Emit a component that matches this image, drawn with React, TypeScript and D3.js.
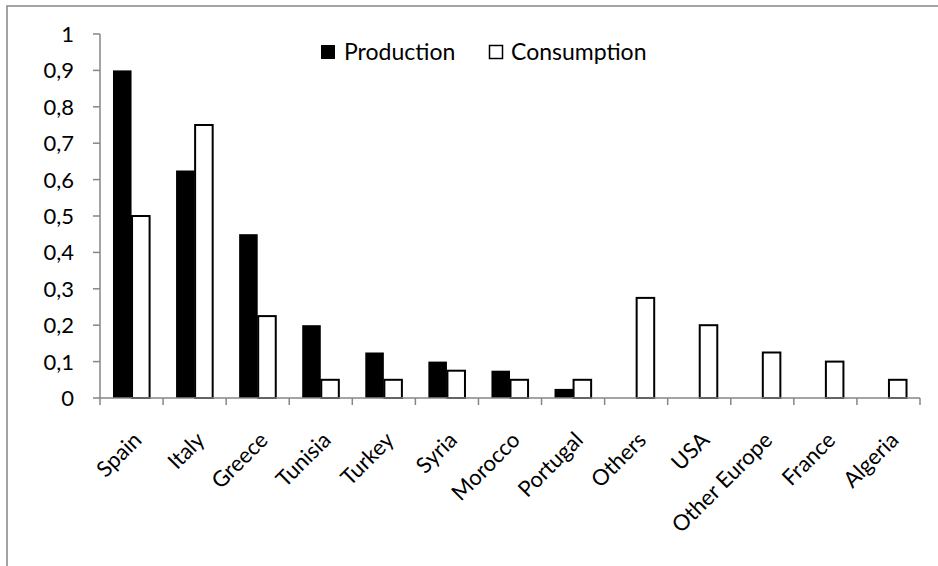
import React from "react";
import * as d3 from "d3";

const categories = ["Spain", "Italy", "Greece", "Tunisia", "Turkey", "Syria", "Morocco", "Portugal", "Others", "USA", "Other Europe", "France", "Algeria"];
const production = [0.9, 0.625, 0.45, 0.2, 0.125, 0.1, 0.075, 0.025, 0, 0, 0, 0, 0];
const consumption = [0.5, 0.75, 0.225, 0.05, 0.05, 0.075, 0.05, 0.05, 0.275, 0.2, 0.125, 0.1, 0.05];
const seriesNames = ["Production", "Consumption"];
const yTicks = [0, 0.1, 0.2, 0.3, 0.4, 0.5, 0.6, 0.7, 0.8, 0.9, 1];

const W = 938;
const H = 566;
const FONT = "Lato, 'Open Sans', sans-serif";
const AXIS = "#868686";

export default function App() {
  const x0 = d3.scaleBand<string>().domain(categories).range([100, 920]).padding(0);
  const x1 = d3.scaleBand<string>().domain(seriesNames).range([0, x0.bandwidth()]).paddingInner(0).paddingOuter(0.7);
  const y = d3.scaleLinear().domain([0, 1]).range([398, 34]);
  const fmt = (v: number) => (v === 0 ? "0" : v === 1 ? "1" : d3.format(".1f")(v).replace(".", ","));
  const values = [production, consumption];
  const boundaries = d3.range(categories.length + 1).map((i) => 100 + i * x0.step());

  return (
    <svg width={W} height={H} style={{ position: "absolute", left: 0, top: 0, background: "#fff" }} fontFamily={FONT}>
      <rect x={7} y={6} width={W + 10} height={H + 10} fill="#fff" stroke={AXIS} strokeWidth={1.5} />
      {/* bars */}
      {categories.map((c, i) =>
        seriesNames.map((s, k) => {
          const v = values[k][i];
          if (v <= 0) return null;
          const bx = (x0(c) as number) + (x1(s) as number);
          const by = y(v);
          return k === 0 ? (
            <rect key={c + s} x={bx} y={by} width={x1.bandwidth()} height={y(0) - by} fill="#000" />
          ) : (
            <rect key={c + s} x={bx + 0.5} y={by} width={x1.bandwidth() - 1} height={y(0) - by} fill="#fff" stroke="#000" strokeWidth={2} />
          );
        })
      )}
      {/* y axis */}
      <line x1={100} x2={100} y1={y(1)} y2={y(0)} stroke={AXIS} strokeWidth={1.5} />
      {yTicks.map((t) => (
        <g key={t}>
          <line x1={93} x2={100} y1={y(t)} y2={y(t)} stroke={AXIS} strokeWidth={1.5} />
          <text x={74} y={y(t)} dy="0.36em" textAnchor="end" fontSize={22} fill="#000">
            {fmt(t)}
          </text>
        </g>
      ))}
      {/* x axis */}
      <line x1={100} x2={920} y1={y(0)} y2={y(0)} stroke={AXIS} strokeWidth={1.5} />
      {boundaries.map((bx, i) => (
        <line key={i} x1={bx} x2={bx} y1={y(0)} y2={y(0) + 7} stroke={AXIS} strokeWidth={1.5} />
      ))}
      {categories.map((c) => {
        const cx = (x0(c) as number) + x0.bandwidth() / 2;
        return (
          <text key={c} transform={`translate(${cx + 6},${436}) rotate(-45)`} textAnchor="end" dy="0.35em" fontSize={22} fill="#000">
            {c}
          </text>
        );
      })}
      {/* legend */}
      <rect x={321} y={45} width={14} height={14} fill="#000" />
      <text x={344} y={60} fontSize={23} fill="#000">Production</text>
      <rect x={489.5} y={45.5} width={13} height={13} fill="#fff" stroke="#000" strokeWidth={1.5} />
      <text x={511} y={60} fontSize={23} fill="#000">Consumption</text>
    </svg>
  );
}
